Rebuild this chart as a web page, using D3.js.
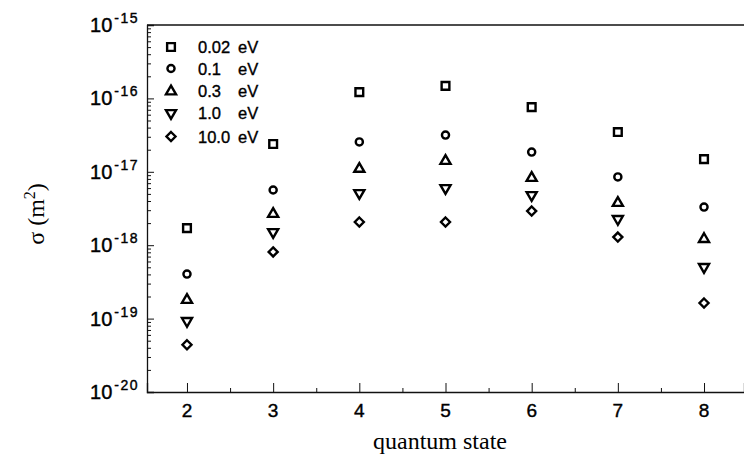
<!DOCTYPE html>
<html>
<head>
<meta charset="utf-8">
<script src="https://cdn.jsdelivr.net/npm/d3@7"></script>
<style>
  html, body { margin: 0; padding: 0; background: #fff; }
  svg { display: block; }
</style>
</head>
<body>
<svg id="chart" width="744" height="462"></svg>
<script>
// ---- data ----
const states = [2, 3, 4, 5, 6, 7, 8];
const energies = ["0.02", "0.1", "0.3", "1.0", "10.0"];
const sigma_002 = [1.71e-18, 2.39e-17, 1.22e-16, 1.48e-16, 7.6e-17, 3.48e-17, 1.49e-17];
const sigma_01  = [4.05e-19, 5.65e-18, 2.55e-17, 3.17e-17, 1.86e-17, 8.5e-18, 3.31e-18];
const sigma_03  = [1.85e-19, 2.75e-18, 1.13e-17, 1.45e-17, 8.5e-18, 3.88e-18, 1.25e-18];
const sigma_10  = [9.3e-20, 1.51e-18, 5.14e-18, 6.0e-18, 4.83e-18, 2.28e-18, 5.05e-19];
const sigma_100 = [4.4e-20, 8.1e-19, 2.07e-18, 2.07e-18, 2.92e-18, 1.29e-18, 1.63e-19];
const xTickValues = [2, 3, 4, 5, 6, 7, 8];
const yTickExponents = [-15, -16, -17, -18, -19, -20];

const seriesValues = [sigma_002, sigma_01, sigma_03, sigma_10, sigma_100];
const symbolKinds = ["square", "circle", "triangle", "down", "diamond"];

// ---- layout ----
const svg = d3.select("#chart");
const pLeft = 147, pRight = 744, pTop = 25, pBottom = 392;

const x = d3.scaleLinear().domain([1.536, 8.464]).range([pLeft, pRight]);
const y = d3.scaleLog().domain([1e-20, 1e-15]).range([pBottom, pTop]);

const axisColor = "#111";

// frame: top line
svg.append("line")
  .attr("x1", pLeft).attr("x2", pRight).attr("y1", pTop).attr("y2", pTop)
  .attr("stroke", axisColor).attr("stroke-width", 1.3);

// ---- y axis ----
const decades = yTickExponents.map(e => Math.pow(10, e));
const minors = [];
for (let e = -20; e < -15; e++) for (let m = 2; m <= 9; m++) minors.push(m * Math.pow(10, e));

const gy = svg.append("g").attr("transform", `translate(${pLeft},0)`);
gy.call(d3.axisLeft(y).tickValues(decades).tickSize(-7).tickFormat(""));
const gyMinor = gy.append("g").call(d3.axisLeft(y).tickValues(minors).tickSize(-4).tickFormat(""));
gyMinor.select("path.domain").remove();
gy.selectAll("path.domain").attr("stroke", axisColor).attr("stroke-width", 1.3);
gy.selectAll(".tick line").attr("stroke", axisColor).attr("stroke-width", 1);

// y tick labels with superscripts
const ylab = svg.append("g")
  .attr("font-family", "'Liberation Sans', Arial, sans-serif")
  .attr("fill", "#000")
  .attr("stroke", "#000").attr("stroke-width", 0.4);
yTickExponents.forEach(e => {
  const t = ylab.append("text")
    .attr("x", 139).attr("y", y(Math.pow(10, e)) + 7)
    .attr("text-anchor", "end");
  t.append("tspan").attr("font-size", 20).text("10");
  t.append("tspan").attr("font-size", 14).attr("dx", 2).attr("dy", -9)
    .attr("letter-spacing", 1.5).text(String(e));
});

// ---- x axis ----
const gx = svg.append("g").attr("transform", `translate(0,${pBottom})`);
gx.call(d3.axisBottom(x).tickValues(xTickValues).tickSize(-9).tickFormat(""));
const gxMinor = gx.append("g").call(d3.axisBottom(x).tickValues([2.5, 3.5, 4.5, 5.5, 6.5, 7.5]).tickSize(-4).tickFormat(""));
gxMinor.select("path.domain").remove();
gx.selectAll("path.domain").attr("stroke", axisColor).attr("stroke-width", 1.3);
gx.selectAll(".tick line").attr("stroke", axisColor).attr("stroke-width", 1);

svg.append("g")
  .attr("font-family", "'Liberation Sans', Arial, sans-serif")
  .attr("font-size", 19).attr("fill", "#000")
  .attr("stroke", "#000").attr("stroke-width", 0.4)
  .attr("text-anchor", "middle")
  .selectAll("text").data(xTickValues).join("text")
  .attr("x", d => x(d)).attr("y", pBottom + 25)
  .text(d => d);

// axis titles
svg.append("text")
  .attr("x", 440).attr("y", 449)
  .attr("text-anchor", "middle")
  .attr("font-family", "'Liberation Serif', 'Times New Roman', serif")
  .attr("font-size", 24).attr("fill", "#000")
  .text("quantum state");

const yt = svg.append("text")
  .attr("transform", "translate(44,214) rotate(-90)")
  .attr("text-anchor", "middle")
  .attr("font-family", "'Liberation Serif', 'Times New Roman', serif")
  .attr("font-size", 24).attr("fill", "#000");
yt.append("tspan").text("σ (m");
yt.append("tspan").attr("font-size", 16).attr("dy", -9).text("2");
yt.append("tspan").attr("dy", 9).text(")");

// ---- markers ----
function markerPath(kind) {
  switch (kind) {
    case "square": return d3.symbol(d3.symbolSquare, 60)();
    case "circle": return d3.symbol(d3.symbolCircle, 40)();
    case "triangle": return d3.symbol(d3.symbolTriangle, 44)();
    case "down": return d3.symbol(d3.symbolTriangle, 44)();
    case "diamond": return d3.symbol(d3.symbolDiamond2, 52)();
  }
}
function markerTransform(kind, cx, cy) {
  if (kind === "down") return `translate(${cx},${cy}) rotate(180)`;
  if (kind === "triangle") return `translate(${cx},${cy + 1})`;
  return `translate(${cx},${cy})`;
}

const gm = svg.append("g");
seriesValues.forEach((vals, si) => {
  const kind = symbolKinds[si];
  gm.append("g").selectAll("path").data(vals.map((v, i) => ({ s: states[i], v })))
    .join("path")
    .attr("d", markerPath(kind))
    .attr("transform", d => markerTransform(kind, x(d.s), y(d.v)))
    .attr("fill", "none").attr("stroke", "#000").attr("stroke-width", 2.4);
});

// ---- legend ----
const legendRows = [47, 68.5, 90.5, 113, 136.5];
const lg = svg.append("g");
energies.forEach((en, i) => {
  const kind = symbolKinds[i];
  const cy = legendRows[i];
  lg.append("path")
    .attr("d", markerPath(kind))
    .attr("transform", markerTransform(kind, 171, cy))
    .attr("fill", "none").attr("stroke", "#000").attr("stroke-width", 2.4);
  const tg = lg.append("g")
    .attr("font-family", "'Liberation Sans', Arial, sans-serif")
    .attr("font-size", 16.5).attr("fill", "#000")
    .attr("stroke", "#000").attr("stroke-width", 0.35);
  tg.append("text").attr("x", 198).attr("y", cy + 6).text(en);
  tg.append("text").attr("x", 238).attr("y", cy + 6).text("eV");
});
</script>
</body>
</html>
